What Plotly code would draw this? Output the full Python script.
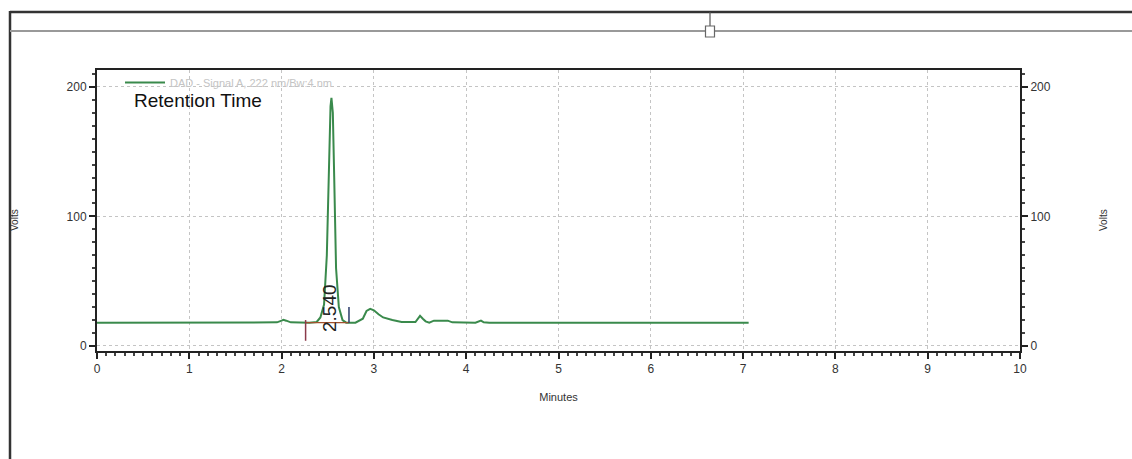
import plotly.graph_objects as go

# ---- data ----
time_min = [0.00, 1.00, 1.95, 2.00, 2.02, 2.05, 2.10, 2.30, 2.38, 2.42, 2.46, 2.49, 2.51,
            2.53, 2.54, 2.555, 2.57, 2.59, 2.62, 2.66, 2.70, 2.80, 2.88, 2.92, 2.96,
            3.00, 3.05, 3.10, 3.20, 3.30, 3.45, 3.48, 3.50, 3.53, 3.56, 3.60, 3.65,
            3.80, 3.85, 4.10, 4.14, 4.16, 4.19, 4.25, 5.00, 6.00, 7.06]
signal_volts = [18.0, 18.0, 18.2, 19.5, 20.2, 19.5, 18.2, 18.0, 18.5, 22.0, 32.0, 70.0, 135.0,
                185.0, 191.5, 180.0, 130.0, 60.0, 30.0, 20.0, 18.0, 18.0, 21.0, 27.0, 28.6,
                27.5, 24.5, 22.0, 20.0, 18.5, 18.5, 21.5, 23.2, 21.0, 19.0, 18.0, 19.5,
                19.5, 18.2, 18.0, 19.2, 19.6, 18.3, 18.0, 18.0, 18.0, 18.0]

series_name = "DAD - Signal A, 222 nm/Bw:4 nm"
peak_rt = 2.540
peak_label = "2.540"
integ_start = 2.26
integ_end = 2.73
integ_base = 18.0
x_ticks = [0, 1, 2, 3, 4, 5, 6, 7, 8, 9, 10]
y_ticks = [0, 100, 200]

# ---- layout geometry (pixels) ----
W, H = 1132, 459
L, R, T, B = 97, 1020, 70, 351
pw, ph = R - L, B - T


def px(xp):
    return (xp - L) / pw


def py(yp):
    return (B - yp) / ph


green = "#3a8a4c"
fig = go.Figure()

fig.add_trace(go.Scatter(x=time_min, y=signal_volts, mode="lines", name=series_name,
                         line=dict(color=green, width=2), showlegend=True))
# integration marks
fig.add_trace(go.Scatter(x=[integ_start, integ_end], y=[integ_base, integ_base], mode="lines",
                         line=dict(color="#a0522d", width=1.2), showlegend=False))
fig.add_trace(go.Scatter(x=[integ_start, integ_start], y=[integ_base + 2, integ_base - 14], mode="lines",
                         line=dict(color="#8b3a4a", width=1.5), showlegend=False))
fig.add_trace(go.Scatter(x=[integ_end, integ_end], y=[integ_base, integ_base + 12], mode="lines",
                         line=dict(color="#2a3a6a", width=1.5), showlegend=False))
# dummy trace for right axis
fig.add_trace(go.Scatter(x=[None], y=[None], yaxis="y2", showlegend=False))

font_main = "Liberation Sans, Arial, sans-serif"

fig.update_layout(
    width=W, height=H,
    margin=dict(l=L, r=W - R, t=T, b=H - B),
    paper_bgcolor="white", plot_bgcolor="white",
    font=dict(family=font_main, size=12, color="#333"),
    showlegend=True,
    legend=dict(x=px(120), y=py(68), xanchor="left", yanchor="top",
                bgcolor="rgba(0,0,0,0)", font=dict(size=11, color="#c4c4c4"),
                itemwidth=40, tracegroupgap=0),
    xaxis=dict(range=[0, 10], tickvals=x_ticks, ticks="outside", ticklen=6, tickwidth=1.5,
               tickcolor="#222", showline=True, linecolor="#222", linewidth=2, mirror=True,
               showgrid=True, gridcolor="#c4c4c4", griddash="dot", gridwidth=1,
               zeroline=False,
               minor=dict(dtick=0.1, ticks="outside", ticklen=3, tickcolor="#444", showgrid=False),
               tickfont=dict(size=12, color="#333"),
               title=dict(text="Minutes", font=dict(size=11, color="#333"), standoff=18)),
    yaxis=dict(range=[-3.9, 213], tickvals=y_ticks, ticks="outside", ticklen=6, tickwidth=1.5,
               tickcolor="#222", showline=True, linecolor="#222", linewidth=2,
               showgrid=True, gridcolor="#c4c4c4", griddash="dot", gridwidth=1,
               zeroline=False,
               minor=dict(dtick=10, ticks="outside", ticklen=3, tickcolor="#444", showgrid=False),
               tickfont=dict(size=12, color="#333")),
    yaxis2=dict(range=[-3.9, 213], tickvals=y_ticks, overlaying="y", side="right",
                ticks="outside", ticklen=6, tickwidth=1.5, tickcolor="#222",
                showline=True, linecolor="#222", linewidth=2, showgrid=False, zeroline=False,
                minor=dict(dtick=10, ticks="outside", ticklen=3, tickcolor="#444"),
                tickfont=dict(size=12, color="#333")),
    annotations=[
        dict(text="Retention Time", xref="paper", yref="paper", x=px(132), y=py(100),
             xanchor="left", yanchor="middle", showarrow=False,
             font=dict(size=19, color="#111111", family=font_main)),
        dict(text=peak_label, x=peak_rt - 0.02, y=integ_base + 11, xref="x", yref="y",
             textangle=-90, showarrow=False, xanchor="center", yanchor="middle",
             font=dict(size=19, color="#222", family=font_main)),
        dict(text="Volts", xref="paper", yref="paper", x=px(14), y=py(220),
             xanchor="center", yanchor="middle",
             textangle=-90, showarrow=False, font=dict(size=10, color="#333")),
        dict(text="Volts", xref="paper", yref="paper", x=px(1103), y=py(220),
             xanchor="center", yanchor="middle",
             textangle=-90, showarrow=False, font=dict(size=10, color="#333")),
    ],
    shapes=[
        dict(type="line", xref="paper", yref="paper", x0=px(10), x1=px(1132), y0=py(12), y1=py(12),
             line=dict(color="#333", width=2.5)),
        dict(type="line", xref="paper", yref="paper", x0=px(10), x1=px(10), y0=py(11), y1=py(459),
             line=dict(color="#333", width=2.5)),
        dict(type="line", xref="paper", yref="paper", x0=px(10), x1=px(1132), y0=py(31), y1=py(31),
             line=dict(color="#999", width=2)),
        dict(type="line", xref="paper", yref="paper", x0=px(710), x1=px(710), y0=py(12), y1=py(26),
             line=dict(color="#555", width=1.2)),
        dict(type="rect", xref="paper", yref="paper", x0=px(705.5), x1=px(714.5), y0=py(26), y1=py(37),
             line=dict(color="#666", width=1.2), fillcolor="white"),
    ],
)

fig.write_html("out.html", config={"displayModeBar": False},
               post_script="document.body.style.margin='0';")
